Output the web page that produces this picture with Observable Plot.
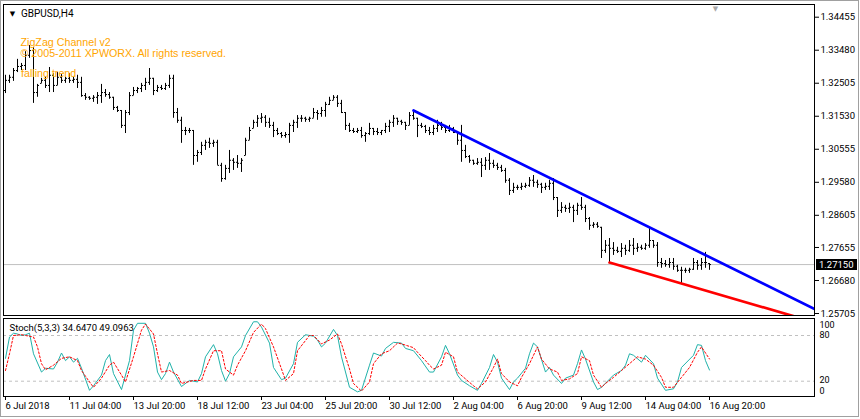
<!DOCTYPE html>
<html><head><meta charset="utf-8">
<script src="https://cdn.jsdelivr.net/npm/d3@7"></script>
<script src="https://cdn.jsdelivr.net/npm/@observablehq/plot@0.6"></script>
<style>
html,body{margin:0;padding:0;background:#fff;}
#wrap{position:relative;width:860px;height:419px;overflow:hidden;background:#fff;}
#wrap svg{position:absolute;left:0;}
#border{position:absolute;left:0;top:0;width:859px;height:417px;border:1px solid #a0a0a0;box-sizing:border-box;pointer-events:none}
</style></head><body><div id="wrap"><div id="border"></div></div>
<script>
// ---- data: GBPUSD H4 bars, index 0 = 6 Jul 2018 12:00 ----
const opens = [1.3229,1.3259,1.3268,1.3288,1.3300,1.3303,1.3333,1.3347,1.3223,1.3250,
1.3259,1.3244,1.3274,1.3244,1.3268,1.3259,1.3265,1.3259,1.3262,1.3253,
1.3214,1.3209,1.3206,1.3209,1.3214,1.3223,1.3217,1.3209,1.3179,1.3170,
1.3126,1.3164,1.3214,1.3229,1.3235,1.3244,1.3253,1.3265,1.3229,1.3238,
1.3235,1.3244,1.3265,1.3164,1.3141,1.3111,1.3111,1.3111,1.3037,1.3046,
1.3067,1.3076,1.3073,1.3076,1.3008,1.2969,1.2999,1.3023,1.3017,1.3014,
1.3037,1.3082,1.3117,1.3135,1.3147,1.3150,1.3135,1.3126,1.3111,1.3102,
1.3096,1.3099,1.3126,1.3135,1.3147,1.3147,1.3144,1.3147,1.3164,1.3161,
1.3170,1.3188,1.3200,1.3209,1.3191,1.3164,1.3126,1.3111,1.3108,1.3111,
1.3096,1.3102,1.3117,1.3108,1.3105,1.3111,1.3123,1.3135,1.3147,1.3138,
1.3135,1.3126,1.3155,1.3147,1.3126,1.3123,1.3111,1.3105,1.3117,1.3126,
1.3120,1.3111,1.3117,1.3105,1.3082,1.3052,1.3034,1.3023,1.3014,1.3017,
1.3008,1.3023,1.3014,1.3008,1.3002,1.2993,1.2964,1.2934,1.2943,1.2943,
1.2946,1.2949,1.2964,1.2958,1.2952,1.2943,1.2946,1.2955,1.2913,1.2875,
1.2884,1.2881,1.2884,1.2875,1.2890,1.2884,1.2851,1.2831,1.2834,1.2825,
1.2757,1.2772,1.2763,1.2757,1.2754,1.2763,1.2757,1.2772,1.2763,1.2766,
1.2763,1.2772,1.2786,1.2772,1.2721,1.2718,1.2715,1.2721,1.2710,1.2698,
1.2698,1.2698,1.2701,1.2721,1.2713,1.2721,1.2718];
const highs = [1.3274,1.3274,1.3294,1.3321,1.3309,1.3344,1.3362,1.3356,1.3247,1.3265,
1.3268,1.3297,1.3279,1.3282,1.3276,1.3268,1.3279,1.3268,1.3274,1.3268,
1.3220,1.3211,1.3214,1.3223,1.3247,1.3232,1.3223,1.3209,1.3182,1.3170,
1.3170,1.3223,1.3238,1.3238,1.3250,1.3265,1.3294,1.3265,1.3244,1.3244,
1.3250,1.3274,1.3274,1.3176,1.3150,1.3120,1.3117,1.3111,1.3052,1.3076,
1.3082,1.3088,1.3082,1.3082,1.3014,1.3008,1.3052,1.3028,1.3037,1.3028,
1.3088,1.3120,1.3141,1.3155,1.3161,1.3155,1.3147,1.3135,1.3117,1.3105,
1.3105,1.3132,1.3141,1.3155,1.3155,1.3150,1.3150,1.3176,1.3170,1.3179,
1.3194,1.3209,1.3214,1.3214,1.3200,1.3164,1.3132,1.3117,1.3117,1.3120,
1.3105,1.3132,1.3117,1.3117,1.3111,1.3132,1.3141,1.3155,1.3147,1.3141,
1.3135,1.3164,1.3170,1.3147,1.3132,1.3126,1.3120,1.3126,1.3141,1.3135,
1.3126,1.3126,1.3120,1.3105,1.3126,1.3067,1.3037,1.3023,1.3028,1.3028,
1.3031,1.3043,1.3023,1.3014,1.3008,1.2999,1.2969,1.2955,1.2949,1.2955,
1.2955,1.2972,1.2978,1.2964,1.2955,1.2955,1.2964,1.2969,1.2913,1.2898,
1.2890,1.2896,1.2890,1.2896,1.2913,1.2890,1.2854,1.2839,1.2839,1.2825,
1.2786,1.2792,1.2780,1.2766,1.2777,1.2772,1.2786,1.2792,1.2777,1.2772,
1.2777,1.2825,1.2786,1.2780,1.2733,1.2727,1.2733,1.2733,1.2713,1.2707,
1.2704,1.2704,1.2733,1.2727,1.2733,1.2751,1.2718];
const lows = [1.3220,1.3250,1.3256,1.3282,1.3288,1.3288,1.3324,1.3191,1.3209,1.3250,
1.3235,1.3223,1.3223,1.3244,1.3250,1.3250,1.3250,1.3250,1.3235,1.3209,
1.3200,1.3200,1.3194,1.3188,1.3191,1.3209,1.3203,1.3170,1.3164,1.3117,
1.3102,1.3155,1.3214,1.3220,1.3223,1.3229,1.3244,1.3214,1.3223,1.3229,
1.3229,1.3235,1.3147,1.3132,1.3073,1.3096,1.3102,1.3008,1.3017,1.3037,
1.3052,1.3058,1.3061,1.3008,1.2958,1.2964,1.2984,1.2993,1.2999,1.2987,
1.3037,1.3082,1.3117,1.3120,1.3132,1.3120,1.3117,1.3090,1.3096,1.3088,
1.3088,1.3073,1.3105,1.3117,1.3135,1.3135,1.3135,1.3147,1.3141,1.3150,
1.3150,1.3185,1.3200,1.3179,1.3161,1.3111,1.3105,1.3102,1.3102,1.3088,
1.3076,1.3096,1.3096,1.3096,1.3096,1.3102,1.3105,1.3120,1.3126,1.3126,
1.3111,1.3126,1.3141,1.3090,1.3117,1.3102,1.3096,1.3096,1.3105,1.3111,
1.3102,1.3105,1.3102,1.3067,1.3017,1.3028,1.3014,1.3008,1.3008,1.2972,
1.2993,1.2993,1.2999,1.2993,1.2987,1.2955,1.2919,1.2925,1.2934,1.2934,
1.2940,1.2943,1.2943,1.2940,1.2925,1.2934,1.2934,1.2904,1.2854,1.2866,
1.2869,1.2866,1.2839,1.2860,1.2875,1.2839,1.2816,1.2822,1.2822,1.2733,
1.2748,1.2721,1.2742,1.2748,1.2736,1.2742,1.2751,1.2742,1.2751,1.2757,
1.2757,1.2763,1.2763,1.2707,1.2704,1.2707,1.2704,1.2698,1.2692,1.2659,
1.2689,1.2689,1.2698,1.2698,1.2698,1.2704,1.2698];
const closes = [1.3259,1.3268,1.3288,1.3300,1.3303,1.3333,1.3347,1.3223,1.3244,1.3259,
1.3244,1.3274,1.3244,1.3268,1.3259,1.3265,1.3259,1.3262,1.3253,1.3214,
1.3209,1.3206,1.3209,1.3214,1.3223,1.3217,1.3209,1.3179,1.3170,1.3126,
1.3164,1.3214,1.3229,1.3235,1.3244,1.3253,1.3265,1.3229,1.3238,1.3235,
1.3244,1.3265,1.3164,1.3141,1.3111,1.3111,1.3111,1.3037,1.3046,1.3067,
1.3076,1.3073,1.3076,1.3008,1.2969,1.2999,1.3023,1.3017,1.3014,1.3023,
1.3082,1.3111,1.3135,1.3147,1.3150,1.3135,1.3126,1.3111,1.3102,1.3096,
1.3099,1.3126,1.3135,1.3147,1.3147,1.3144,1.3147,1.3164,1.3161,1.3170,
1.3188,1.3200,1.3209,1.3191,1.3164,1.3126,1.3111,1.3108,1.3111,1.3096,
1.3102,1.3117,1.3108,1.3105,1.3111,1.3123,1.3135,1.3147,1.3138,1.3135,
1.3126,1.3155,1.3147,1.3126,1.3123,1.3111,1.3105,1.3117,1.3126,1.3120,
1.3111,1.3117,1.3105,1.3082,1.3052,1.3034,1.3023,1.3014,1.3017,1.3008,
1.3023,1.3014,1.3008,1.3002,1.2993,1.2964,1.2934,1.2943,1.2943,1.2946,
1.2949,1.2964,1.2958,1.2952,1.2943,1.2946,1.2955,1.2913,1.2875,1.2884,
1.2881,1.2884,1.2875,1.2890,1.2884,1.2851,1.2831,1.2834,1.2828,1.2757,
1.2772,1.2763,1.2757,1.2754,1.2763,1.2757,1.2772,1.2763,1.2766,1.2763,
1.2772,1.2786,1.2772,1.2721,1.2718,1.2715,1.2721,1.2710,1.2698,1.2698,
1.2698,1.2701,1.2721,1.2713,1.2721,1.2721,1.2715];

// ZigZag channel trend lines (bar index, price)
const upperIdx = [102, 203];
const upperVal = [1.3170, 1.25791];
const lowerIdx = [151, 203];
const lowerVal = [1.2721, 1.25421];
const bidPrice = 1.2715;

// Stochastic (5,3,3)
const kIdx = [0,1,2,3,4,5,6,7,9,10,12,13,14,15,16,17,18,19,21,22,24,25,26,27,29,31,32,33,35,36,37,38,39,40,41,42,44,46,48,49,50,52,53,54,55,56,57,59,60,62,63,64,66,67,69,70,72,73,75,77,78,79,80,82,83,84,86,88,89,91,92,94,95,97,99,100,102,104,106,107,109,110,111,113,114,116,118,119,121,122,123,124,126,127,128,130,131,132,133,135,136,137,139,140,142,143,144,145,147,148,149,152,154,155,156,157,159,160,162,163,165,167,168,169,172,173,174,175,176];
const kVal = [50,78,83,82,80,81,83,56,32,37,36,45,57,47,52,45,50,37,8,14,28,47,55,30,9,47,87,96,96,83,65,32,22,30,45,32,13,21,19,30,52,68,56,34,20,30,52,65,80,98,98,91,70,38,22,24,43,71,81,79,74,65,70,88,80,52,12,6,8,41,57,53,63,71,70,63,60,47,32,32,52,67,56,28,21,14,8,17,38,55,45,24,9,19,24,37,56,70,65,32,38,28,17,24,28,43,61,49,19,9,12,28,34,41,56,54,45,54,43,24,8,10,19,38,54,68,67,47,34.647];
const dIdx = [0,1,2,4,5,7,8,9,10,12,14,16,18,19,21,22,24,26,27,29,30,32,34,35,37,38,39,41,43,44,47,49,50,52,54,55,57,58,60,62,64,65,67,69,70,72,73,76,77,79,81,83,84,86,87,89,91,92,94,96,98,99,102,103,105,106,107,109,110,112,113,115,117,118,120,122,123,124,126,128,129,131,133,134,136,138,139,141,143,144,146,147,149,150,152,154,156,158,160,162,164,165,167,169,171,173,174,176];
const dVal = [34,56,80,81,80,78,65,43,35,41,50,52,47,34,19,12,24,41,45,28,19,52,87,95,82,56,32,34,28,17,21,21,36,60,60,36,28,41,60,84,95,89,65,36,21,30,60,80,80,69,74,82,69,36,17,7,19,43,56,60,70,69,64,58,47,41,36,41,58,52,32,23,14,10,19,38,49,30,19,14,25,43,65,49,36,32,21,23,30,52,47,28,12,17,25,34,43,52,49,41,25,12,12,25,38,58,65,49.0963];
const stochLevels = [80, 20];

// Axis ticks and labels
const priceTicks = [1.34455,1.33480,1.32505,1.31530,1.30555,1.29580,1.28605,1.27655,1.26680,1.25705];
const dateTicks = [0,16,32,48,64,80,96,112,128,144,160,176];
const dateLabels = ["6 Jul 2018","11 Jul 04:00","13 Jul 20:00","18 Jul 12:00","23 Jul 04:00","25 Jul 20:00","30 Jul 12:00","2 Aug 04:00","6 Aug 20:00","9 Aug 12:00","14 Aug 04:00","16 Aug 20:00"];
const chartTitle = "GBPUSD,H4";
const indicatorText = ["ZigZag Channel v2", "© 2005-2011 XPWORX. All rights reserved.", "falling trend"];
const stochTitle = "Stoch(5,3,3) 34.6470 49.0963";
const shiftMarkerIdx = 177.5;

// ---- build ----
const bars = highs.map((h, i) => ({i, o: opens[i], h, l: lows[i], c: closes[i]}));
const upper = upperIdx.map((x, j) => ({x, y: upperVal[j]}));
const lower = lowerIdx.map((x, j) => ({x, y: lowerVal[j]}));
const kLine = kIdx.map((x, j) => ({x, y: kVal[j]}));
const dLine = dIdx.map((x, j) => ({x, y: dVal[j]}));
const labelMap = new Map(dateTicks.map((t, j) => [t, dateLabels[j]]));

const font = "Roboto, 'Liberation Sans', sans-serif";
const W = 860, mL = 3, mR = 46;
const xDomain = [-0.5, 202.25];

const price = Plot.plot({
  width: W, height: 318,
  marginLeft: mL, marginRight: mR, marginTop: 4, marginBottom: 3,
  style: {fontFamily: font, fontSize: "9.5px", background: "transparent", color: "black", overflow: "visible"},
  x: {domain: xDomain, axis: null},
  y: {domain: [1.25646, 1.34830], axis: null},
  marks: [
    Plot.ruleY([bidPrice], {stroke: "#c0c0c0"}),
    Plot.ruleX(bars, {x: "i", y1: "l", y2: "h", stroke: "black", strokeWidth: 1}),
    Plot.link(bars, {x1: d => d.i - 0.375, x2: d => d.i, y1: "o", y2: "o", stroke: "black"}),
    Plot.link(bars, {x1: d => d.i, x2: d => d.i + 0.375, y1: "c", y2: "c", stroke: "black"}),
    Plot.line(upper, {x: "x", y: "y", stroke: "#0000ff", strokeWidth: 2.7, clip: true}),
    Plot.line(lower, {x: "x", y: "y", stroke: "#ff0000", strokeWidth: 2.7, clip: true}),
    Plot.frame({stroke: "black"}),
    Plot.axisY({anchor: "right", ticks: priceTicks, tickFormat: d => d.toFixed(5), tickSize: 4, tickPadding: 2, label: null}),
    Plot.text(["▼"], {text: d => d, frameAnchor: "top-left", dx: 9, dy: 11.5, textAnchor: "middle", lineAnchor: "bottom", fontSize: 7, fontFamily: "DejaVu Sans", fill: "black"}),
    Plot.text([chartTitle], {text: d => d, frameAnchor: "top-left", dx: 17.5, dy: 12.7, textAnchor: "start", lineAnchor: "bottom", fontSize: 10, fill: "black"}),
    Plot.text([indicatorText[0]], {text: d => d, frameAnchor: "top-left", dx: 17, dy: 41.7, textAnchor: "start", lineAnchor: "bottom", fontSize: 10.7, fontFamily: "'Liberation Sans', Arial, sans-serif", fill: "#ffa500"}),
    Plot.text([indicatorText[1]], {text: d => d, frameAnchor: "top-left", dx: 17, dy: 52, textAnchor: "start", lineAnchor: "bottom", fontSize: 10.7, fontFamily: "'Liberation Sans', Arial, sans-serif", fill: "#ffa500"}),
    Plot.text([indicatorText[2]], {text: d => d, frameAnchor: "top-left", dx: 17.5, dy: 72, textAnchor: "start", lineAnchor: "bottom", fontSize: 10.7, fontFamily: "'Liberation Sans', Arial, sans-serif", fill: "#ffa500"}),
    Plot.text([shiftMarkerIdx], {x: d => d, text: () => "▼", frameAnchor: "top", dy: 2, lineAnchor: "top", fontSize: 7, fontFamily: "DejaVu Sans", fill: "#a8a8a8"})
  ]
});

// current bid label box on the price scale
const yb = price.scale("y").apply(bidPrice);
const axisX0 = W - mR;
const g = d3.select(price).append("g").attr("text-anchor", "start");
g.append("rect").attr("x", axisX0 + 2).attr("y", Math.round(yb) - 5).attr("width", 41).attr("height", 11).attr("fill", "black");
g.append("text").attr("x", axisX0 + 5).attr("y", Math.round(yb) + 4).attr("fill", "white").attr("text-anchor", "start")
  .attr("font-family", font).attr("font-size", "9.5px").text(bidPrice.toFixed(5));

const stoch = Plot.plot({
  width: W, height: 104,
  marginLeft: mL, marginRight: mR, marginTop: 3, marginBottom: 23,
  style: {fontFamily: font, fontSize: "9px", background: "transparent", color: "black", overflow: "visible"},
  x: {domain: xDomain},
  y: {domain: [-0.1, 102.3], axis: null},
  marks: [
    Plot.ruleY(stochLevels, {stroke: "#c0c0c0", strokeDasharray: "3,3"}),
    Plot.line(kLine, {x: "x", y: "y", stroke: "#20b2aa", strokeWidth: 1}),
    Plot.line(dLine, {x: "x", y: "y", stroke: "#ff0000", strokeWidth: 1, strokeDasharray: "2,2"}),
    Plot.frame({stroke: "black"}),
    Plot.axisX({ticks: dateTicks, tickFormat: d => labelMap.get(d), textAnchor: "start", tickSize: 4, tickPadding: 2, label: null, fontSize: 9.5}),
    Plot.text([stochTitle], {text: d => d, frameAnchor: "top-left", dx: 6, dy: 12.5, textAnchor: "start", lineAnchor: "bottom", fill: "black", fontSize: 9.5}),
    Plot.text([100], {y: d => d, text: d => String(d), frameAnchor: "right", dx: 5, dy: 5, textAnchor: "start"}),
    Plot.text([80], {y: d => d, text: d => String(d), frameAnchor: "right", dx: 5, textAnchor: "start"}),
    Plot.text([20], {y: d => d, text: d => String(d), frameAnchor: "right", dx: 5, dy: -1, textAnchor: "start"}),
    Plot.text([0], {y: d => d, text: d => String(d), frameAnchor: "right", dx: 5, dy: -5, textAnchor: "start"})
  ]
});

price.style.top = "0px";
stoch.style.top = "315px";
const wrap = document.getElementById("wrap");
wrap.insertBefore(price, wrap.firstChild);
wrap.insertBefore(stoch, wrap.firstChild);
</script>
</body></html>
